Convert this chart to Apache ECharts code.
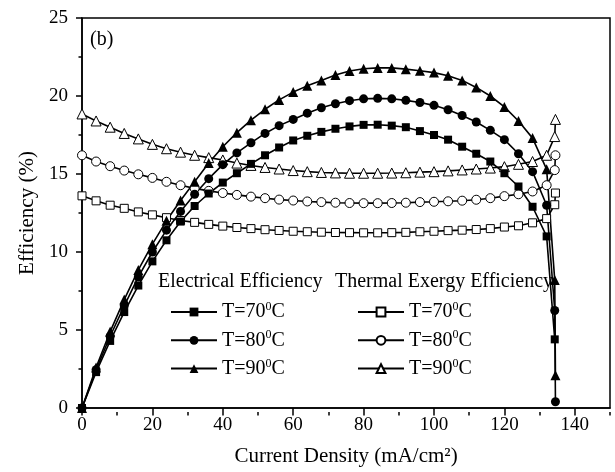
<!DOCTYPE html>
<html>
<head>
<meta charset="utf-8">
<script src="https://cdn.jsdelivr.net/npm/echarts@6/dist/echarts.min.js"></script>
<style>
  html, body { margin: 0; padding: 0; background: #fff; }
  #chart { width: 615px; height: 472px; }
</style>
</head>
<body>
<div id="chart"></div>
<script>
// Current density (mA/cm2) shared by every curve
const currentDensity = [0, 4, 8, 12, 16, 20, 24, 28, 32, 36, 40, 44, 48, 52, 56, 60, 64, 68,
  72, 76, 80, 84, 88, 92, 96, 100, 104, 108, 112, 116, 120, 124, 128, 132, 134.3, 134.5];

// Electrical efficiency (%)
const elec70 = [0, 2.3, 4.3, 6.15, 7.85, 9.4, 10.75, 11.95, 12.95, 13.75, 14.45, 15.05, 15.65, 16.2,
  16.7, 17.15, 17.45, 17.7, 17.9, 18.05, 18.15, 18.16, 18.1, 18.0, 17.75, 17.5, 17.2, 16.75,
  16.3, 15.8, 15.05, 14.2, 12.9, 11.0, 4.4, null];
const elec80 = [0, 2.45, 4.6, 6.55, 8.4, 10.0, 11.4, 12.6, 13.7, 14.7, 15.6, 16.35, 17.0, 17.6,
  18.1, 18.5, 18.9, 19.25, 19.5, 19.7, 19.82, 19.85, 19.82, 19.72, 19.58, 19.4, 19.12, 18.75,
  18.33, 17.8, 17.2, 16.3, 15.15, 13.0, 6.25, 0.4];
const elec90 = [0, 2.6, 4.9, 6.95, 8.85, 10.5, 12.0, 13.3, 14.5, 15.7, 16.75, 17.65, 18.45, 19.15,
  19.75, 20.25, 20.65, 21.0, 21.35, 21.6, 21.75, 21.8, 21.8, 21.72, 21.62, 21.5, 21.3, 21.0,
  20.55, 20.0, 19.3, 18.4, 17.3, 15.3, 8.2, 2.1];

// Thermal exergy efficiency (%)
const exergy70 = [13.6, 13.28, 13.0, 12.8, 12.57, 12.38, 12.2, 12.02, 11.9, 11.77, 11.66, 11.57,
  11.5, 11.43, 11.38, 11.33, 11.3, 11.27, 11.25, 11.24, 11.23, 11.23, 11.24, 11.26, 11.3, 11.33,
  11.37, 11.4, 11.44, 11.5, 11.6, 11.68, 11.87, 12.14, 13.03, 13.78];
const exergy80 = [16.2, 15.8, 15.5, 15.22, 14.98, 14.75, 14.5, 14.28, 14.08, 13.92, 13.78, 13.66,
  13.55, 13.45, 13.36, 13.3, 13.24, 13.2, 13.16, 13.14, 13.13, 13.13, 13.14, 13.16, 13.2, 13.22,
  13.25, 13.29, 13.35, 13.45, 13.58, 13.7, 13.88, 14.28, 15.25, 16.2];
const exergy90 = [18.85, 18.4, 18.0, 17.6, 17.25, 16.9, 16.62, 16.4, 16.2, 16.05, 15.9, 15.7,
  15.55, 15.42, 15.32, 15.22, 15.15, 15.1, 15.07, 15.05, 15.05, 15.05, 15.06, 15.08, 15.12, 15.15,
  15.2, 15.26, 15.32, 15.38, 15.47, 15.62, 15.8, 16.2, 17.4, 18.5];

// Axis ticks
const xTicks = { min: 0, max: 150, step: 20, minorStep: 10 };
const yTicks = { min: 0, max: 25, step: 5 };

// Legend labels
const legendLabels = {
  e70: 'T=70{sup|0}C', e80: 'T=80{sup|0}C', e90: 'T=90{sup|0}C',
  x70: 'T=70{sup|0}C', x80: 'T=80{sup|0}C', x90: 'T=90{sup|0}C'
};
const groupTitles = ['Electrical Efficiency', 'Thermal Exergy Efficiency'];
const panelTag = '(b)';

const FONT = '"Liberation Serif", "Times New Roman", serif';
const BLACK = '#000';

function points(ys) {
  const out = [];
  currentDensity.forEach((x, i) => { if (ys[i] != null) out.push([x, ys[i]]); });
  return out;
}

function lineSeries(id, ys, symbol, size, filled) {
  return {
    id: id, name: id, type: 'line', data: points(ys),
    xAxisIndex: 0, yAxisIndex: 0,
    symbol: symbol, symbolSize: size, showAllSymbol: true,
    lineStyle: { color: BLACK, width: 1.6 },
    itemStyle: filled
      ? { color: BLACK, borderColor: BLACK, borderWidth: 0 }
      : { color: '#fff', borderColor: BLACK, borderWidth: 1 },
    emphasis: { disabled: true },
    animation: false
  };
}

const chart = echarts.init(document.getElementById('chart'), null, { renderer: 'canvas' });

const axisLineStyle = { color: BLACK, width: 1.5 };
const labelStyle = { fontFamily: FONT, fontSize: 19, color: BLACK };

const legendCommon = {
  orient: 'vertical', top: 301, itemWidth: 46, itemHeight: 11, itemGap: 6.3,
  padding: 0, selectedMode: false,
  formatter: name => legendLabels[name],
  textStyle: {
    fontFamily: FONT, fontSize: 20, color: BLACK, lineHeight: 22,
    rich: { sup: { fontFamily: FONT, fontSize: 12, verticalAlign: 'top', lineHeight: 12, color: BLACK } }
  }
};

chart.setOption({
  backgroundColor: '#fff',
  animation: false,
  grid: [
    { left: 82, right: 5, top: 18, bottom: 60, show: true, borderColor: BLACK, borderWidth: 1.5 },
    { left: 82, right: 5, top: 18, bottom: 60, show: false }
  ],
  xAxis: [
    {
      type: 'value', gridIndex: 0, min: xTicks.min, max: xTicks.max, interval: xTicks.step,
      axisLine: { show: true, lineStyle: axisLineStyle },
      axisTick: { show: true, length: 6, lineStyle: axisLineStyle },
      axisLabel: Object.assign({ margin: 8, showMaxLabel: false,
        formatter: v => (v % xTicks.step === 0 ? String(v) : '') }, labelStyle),
      splitLine: { show: false },
      name: 'Current Density (mA/cm\u00B2)', nameLocation: 'middle', nameGap: 38,
      nameTextStyle: { fontFamily: FONT, fontSize: 21, color: BLACK }
    },
    {
      type: 'value', gridIndex: 1, min: xTicks.min, max: xTicks.max, interval: xTicks.minorStep,
      axisLine: { show: false },
      axisTick: { show: true, length: 3.5, lineStyle: axisLineStyle },
      axisLabel: { show: false }, splitLine: { show: false }
    }
  ],
  yAxis: [
    {
      type: 'value', gridIndex: 0, min: yTicks.min, max: yTicks.max, interval: yTicks.step,
      axisLine: { show: true, lineStyle: axisLineStyle },
      axisTick: { show: true, length: 6, lineStyle: axisLineStyle },
      minorTick: { show: true, splitNumber: 2, length: 3.5, lineStyle: axisLineStyle },
      axisLabel: Object.assign({ margin: 14 }, labelStyle),
      splitLine: { show: false }, minorSplitLine: { show: false },
      name: 'Efficiency (%)', nameLocation: 'middle', nameGap: 44,
      nameTextStyle: { fontFamily: FONT, fontSize: 21, color: BLACK }
    },
    { type: 'value', gridIndex: 1, min: yTicks.min, max: yTicks.max, show: false }
  ],
  legend: [
    Object.assign({ data: ['e70', 'e80', 'e90'], left: 170 }, legendCommon),
    Object.assign({ data: ['x70', 'x80', 'x90'], left: 357 }, legendCommon)
  ],
  graphic: [
    { type: 'text', left: 90, top: 30, style: { text: panelTag, font: '20px ' + FONT, fill: BLACK } },
    { type: 'text', left: 158, top: 272, style: { text: groupTitles[0], font: '20px ' + FONT, fill: BLACK } },
    { type: 'text', left: 335, top: 272, style: { text: groupTitles[1], font: '20px ' + FONT, fill: BLACK } }
  ],
  series: [
    lineSeries('x70', exergy70, 'rect', 8, false),
    lineSeries('x80', exergy80, 'circle', 9, false),
    lineSeries('x90', exergy90, 'triangle', 10, false),
    lineSeries('e70', elec70, 'rect', 8, true),
    lineSeries('e80', elec80, 'circle', 9, true),
    lineSeries('e90', elec90, 'triangle', 10, true)
  ]
});
</script>
</body>
</html>
